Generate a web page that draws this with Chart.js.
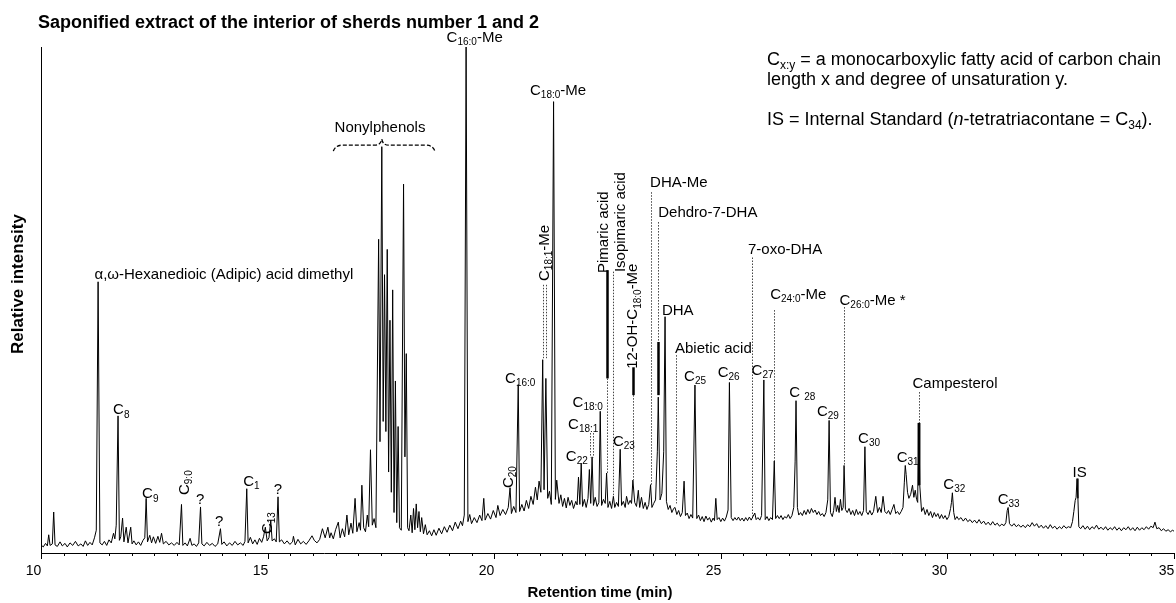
<!DOCTYPE html>
<html>
<head>
<meta charset="utf-8">
<title>Saponified extract chromatogram</title>
<script src="https://cdn.jsdelivr.net/npm/chart.js@4.4.1/dist/chart.umd.min.js"></script>
<style>
  html, body { margin: 0; padding: 0; background: #fff; }
  #wrap { width: 1176px; height: 603px; position: relative; }
</style>
</head>
<body>
<div id="wrap"><canvas id="gc"></canvas></div>
<script>
// retention time (min), relative intensity (%)
const trace10to13 = [
  [10.00,1.6],[10.05,1.2],[10.10,1.9],[10.14,1.4],[10.17,3.6],[10.20,1.5],[10.25,1.8],[10.28,8.1],[10.31,1.6],[10.36,1.3],
  [10.42,2.2],[10.47,1.4],[10.53,1.9],[10.58,1.2],[10.64,2.0],[10.70,1.5],[10.76,2.3],[10.82,1.4],[10.88,1.8],[10.93,1.3],
  [10.98,2.4],[11.03,1.5],[11.08,2.1],[11.13,1.6],[11.18,3.0],[11.22,4.5],[11.26,53.6],[11.30,2.0],[11.35,1.6],[11.40,2.3],
  [11.45,1.5],[11.50,2.6],[11.55,2.0],[11.60,3.9],[11.63,2.8],[11.66,5.5],[11.70,27.1],[11.73,2.5],[11.76,3.2],[11.80,6.9],
  [11.83,2.2],[11.88,5.1],[11.92,2.0],[11.98,5.1],[12.01,1.8],[12.05,2.4],[12.10,1.6],[12.15,2.2],[12.20,1.5],[12.25,2.5],
  [12.29,3.0],[12.32,10.8],[12.35,2.2],[12.40,3.5],[12.44,2.0],[12.48,3.2],[12.53,1.9],[12.58,3.3],[12.62,2.1],[12.66,3.9],
  [12.70,1.8],[12.76,2.3],[12.82,1.6],[12.88,2.0],[12.94,1.5],[13.00,2.1]
];
const trace13to16 = [
  [13.05,1.6],[13.10,9.6],[13.13,1.5],[13.18,2.0],[13.23,1.4],[13.29,2.9],[13.33,1.5],[13.38,1.8],[13.43,1.3],[13.48,2.0],
  [13.52,9.1],[13.55,1.8],[13.60,1.4],[13.66,2.1],[13.72,1.5],[13.78,1.9],[13.84,1.3],[13.90,1.8],[13.96,4.8],[13.99,1.7],
  [14.04,2.2],[14.10,1.4],[14.16,2.0],[14.22,1.5],[14.28,2.3],[14.34,1.6],[14.40,2.0],[14.46,1.5],[14.50,2.3],[14.54,12.7],
  [14.57,2.0],[14.62,3.1],[14.67,1.8],[14.72,2.6],[14.77,1.7],[14.82,2.9],[14.87,2.1],[14.91,3.2],[14.95,5.1],[14.99,2.4],
  [15.03,3.0],[15.07,6.5],[15.10,2.4],[15.15,2.8],[15.19,2.2],[15.23,11.1],[15.26,2.2],[15.31,2.6],[15.37,1.8],[15.43,2.4],
  [15.49,1.7],[15.55,2.2],[15.57,3.3],[15.61,1.6],[15.67,2.7],[15.73,1.8],[15.79,2.3],[15.85,1.7],[15.91,2.4],[15.98,3.4],
  [16.03,2.5],[16.09,2.0],[16.15,2.7],[16.21,4.8],[16.27,3.0],[16.33,5.1]
];
const trace16to18 = [
  [16.37,3.0],[16.40,4.0],[16.45,2.8],[16.50,4.6],[16.56,6.1],[16.60,3.0],[16.65,4.8],[16.70,3.2],[16.75,7.5],[16.79,3.6],
  [16.84,5.9],[16.88,3.9],[16.93,10.8],[16.97,4.2],[17.02,6.0],[17.05,4.5],[17.08,13.4],[17.12,5.0],[17.16,4.2],[17.20,7.5],
  [17.23,5.2],[17.27,20.4],[17.31,5.5],[17.35,6.8],[17.39,5.0],[17.45,62.0],[17.48,22.0],[17.52,80.3],[17.55,26.0],[17.58,55.0],
  [17.61,24.0],[17.64,60.0],[17.67,16.0],[17.70,46.0],[17.73,12.0],[17.76,52.0],[17.79,8.0],[17.82,34.0],[17.85,6.0],[17.88,25.0],
  [17.91,5.0],[17.95,4.5],[18.00,72.9],[18.03,19.0],[18.06,39.4],[18.09,5.0]
];
const trace18to21 = [
  [18.12,4.4],[18.16,7.5],[18.19,4.0],[18.22,8.8],[18.25,4.6],[18.28,9.7],[18.31,5.0],[18.34,8.2],[18.37,4.2],[18.40,7.0],
  [18.44,3.8],[18.48,5.6],[18.52,3.6],[18.57,4.4],[18.62,3.4],[18.67,4.6],[18.72,3.5],[18.78,4.9],[18.84,3.8],[18.90,5.2],
  [18.96,4.1],[19.02,5.5],[19.08,4.4],[19.14,6.1],[19.20,4.8],[19.26,6.3],[19.30,5.4],[19.34,7.5],[19.38,100],[19.42,6.2],
  [19.46,7.6],[19.50,5.8],[19.56,7.0],[19.62,6.0],[19.68,7.5],[19.73,6.4],[19.77,10.8],[19.80,6.5],[19.86,7.8],[19.92,6.7],
  [19.98,8.4],[20.04,7.0],[20.08,9.4],[20.13,7.4],[20.19,8.6],[20.25,7.6],[20.31,9.0],[20.35,12.9],[20.38,7.8],[20.43,9.2],
  [20.48,8.0],[20.53,33.3],[20.56,8.2],[20.61,9.6],[20.66,8.3],[20.71,10.4],[20.76,8.8],[20.81,11.2],[20.86,9.6],[20.91,13.0],
  [20.95,10.5],[20.99,14.2],[21.03,12.0],[21.07,38.2],[21.10,12.5],[21.14,34.5],[21.18,10.8],[21.22,12.2],[21.26,9.6],[21.31,89.2],
  [21.35,10.6],[21.38,14.4],[21.43,9.8]
];
const trace21to24 = [
  [21.47,11.5],[21.51,9.2],[21.55,10.8],[21.59,8.9],[21.63,11.0],[21.67,9.4],[21.71,10.4],[21.75,8.8],[21.80,10.2],[21.83,9.5],
  [21.86,15.0],[21.89,9.6],[21.92,17.7],[21.95,9.2],[21.99,10.6],[22.03,9.0],[22.07,10.8],[22.10,16.5],[22.13,9.8],[22.16,19.0],
  [22.19,9.4],[22.23,11.0],[22.27,9.2],[22.31,10.0],[22.34,28.0],[22.37,9.4],[22.41,10.6],[22.45,9.8],[22.48,15.8],[22.51,9.0],
  [22.55,10.2],[22.59,8.8],[22.63,11.2],[22.66,9.0],[22.70,10.0],[22.74,9.2],[22.78,20.5],[22.81,9.4],[22.85,10.2],[22.89,9.0],
  [22.92,11.2],[22.96,9.6],[23.00,10.4],[23.03,9.8],[23.06,14.4],[23.10,10.0],[23.14,9.2],[23.18,12.4],[23.21,9.0],[23.25,11.0],
  [23.29,8.8],[23.33,10.0],[23.37,8.6],[23.41,9.6],[23.45,13.5],[23.48,9.0],[23.52,9.8],[23.56,10.5],[23.60,20.0],[23.62,30.8],
  [23.66,10.5],[23.70,11.8],[23.74,20.0],[23.77,46.7],[23.80,10.2],[23.84,8.6],[23.88,9.4],[23.92,8.0],[23.96,8.8],[23.99,9.0]
];
const trace24to26 = [
  [24.03,7.6],[24.07,8.4],[24.11,7.2],[24.15,8.0],[24.19,14.2],[24.22,7.4],[24.26,7.9],[24.30,6.8],[24.34,7.6],[24.38,6.9],
  [24.43,33.2],[24.47,6.8],[24.51,7.5],[24.55,6.4],[24.59,7.2],[24.63,6.2],[24.67,7.3],[24.71,6.5],[24.75,7.0],[24.79,6.1],
  [24.83,6.9],[24.86,6.4],[24.89,10.8],[24.92,6.6],[24.96,7.0],[25.00,6.2],[25.04,6.9],[25.08,6.3],[25.12,7.1],[25.16,8.5],
  [25.19,33.7],[25.23,7.0],[25.27,6.4],[25.31,7.0],[25.35,6.5],[25.39,7.1],[25.43,6.4],[25.47,6.9],[25.51,6.3],[25.55,7.0],
  [25.59,6.4],[25.63,7.1],[25.67,6.5],[25.71,7.2],[25.75,7.9],[25.78,6.6],[25.82,7.0],[25.86,6.5],[25.90,7.4],[25.95,34.2],
  [25.98,6.6],[26.02,7.2],[26.06,6.4],[26.10,7.0],[26.14,6.6],[26.18,18.2],[26.21,6.8],[26.25,7.4]
];
const trace26to30 = [
  [26.29,6.8],[26.33,7.4],[26.37,6.6],[26.41,7.2],[26.45,6.9],[26.49,7.6],[26.53,6.8],[26.57,7.4],[26.61,9.0],[26.64,18.0],
  [26.66,30.1],[26.69,9.0],[26.72,7.5],[26.76,8.0],[26.80,7.4],[26.84,8.4],[26.88,7.6],[26.92,8.6],[26.96,7.8],[27.00,8.8],
  [27.04,8.0],[27.08,8.5],[27.12,7.6],[27.16,8.2],[27.20,7.4],[27.24,7.8],[27.28,7.2],[27.32,8.0],[27.36,10.5],[27.39,26.2],
  [27.42,8.0],[27.46,7.2],[27.49,8.4],[27.52,11.0],[27.55,8.2],[27.58,9.4],[27.61,8.0],[27.64,10.6],[27.67,8.4],[27.70,9.0],
  [27.72,17.3],[27.75,8.6],[27.79,8.0],[27.83,8.8],[27.87,7.6],[27.91,8.4],[27.95,7.4],[27.99,8.6],[28.03,7.6],[28.07,8.2],
  [28.11,7.4],[28.15,8.4],[28.18,21.0],[28.21,8.2],[28.25,7.6],[28.29,8.4],[28.33,7.5],[28.37,8.2],[28.42,11.2],[28.46,8.0],
  [28.50,9.0],[28.54,8.0],[28.58,11.2],[28.62,8.2],[28.66,7.8],[28.70,8.4],[28.74,7.6],[28.78,8.6],[28.82,9.6],[28.86,7.8],
  [28.90,8.2],[28.94,7.6],[28.98,8.2],[29.02,9.0],[29.05,14.0],[29.07,17.3],[29.09,15.5],[29.12,12.0],[29.15,10.8],[29.19,11.6],
  [29.23,13.4],[29.26,11.0],[29.29,12.4],[29.32,10.6],[29.345,10.0],[29.357,25.7],[29.366,13.4],[29.374,25.7],[29.39,13.4],[29.43,8.2],
  [29.47,9.0],[29.51,7.6],[29.55,8.6],[29.59,7.4],[29.63,8.2],[29.67,7.0],[29.71,8.0],[29.75,7.2],[29.79,7.8],[29.83,6.8],
  [29.87,7.6],[29.91,6.8],[29.95,7.4],[29.99,6.6]
];
const trace30to35 = [
  [30.03,7.2],[30.07,8.8],[30.09,10.0],[30.11,11.9],[30.14,8.0],[30.17,6.6],[30.21,7.2],[30.25,6.6],[30.30,7.0],[30.35,6.3],
  [30.40,6.9],[30.45,6.2],[30.50,6.6],[30.55,6.0],[30.60,6.5],[30.65,5.9],[30.70,6.6],[30.75,5.8],[30.80,6.3],[30.85,5.6],
  [30.90,6.1],[30.95,5.5],[31.00,6.2],[31.05,5.5],[31.10,5.9],[31.15,5.3],[31.20,5.7],[31.25,5.4],[31.29,6.0],[31.32,8.4],
  [31.34,9.0],[31.37,5.8],[31.42,5.3],[31.47,5.8],[31.52,5.2],[31.57,5.6],[31.62,5.1],[31.67,5.5],[31.72,5.0],[31.77,5.6],
  [31.82,5.2],[31.87,6.0],[31.92,5.3],[31.97,5.8],[32.02,5.0],[32.07,5.5],[32.12,4.9],[32.17,5.4],[32.22,4.8],[32.27,5.6],
  [32.32,4.9],[32.37,5.3],[32.42,4.7],[32.47,5.2],[32.52,4.8],[32.57,5.4],[32.62,4.9],[32.67,5.2],[32.72,5.0],[32.76,6.2],
  [32.79,8.2],[32.82,10.4],[32.84,11.0],[32.86,14.7],[32.88,10.8],[32.90,5.2],[32.94,4.8],[32.99,5.4],[33.04,4.7],[33.09,5.3],
  [33.14,4.6],[33.19,5.2],[33.24,4.8],[33.29,5.5],[33.34,4.7],[33.39,5.1],[33.44,4.6],[33.49,5.2],[33.54,4.5],[33.59,5.0],
  [33.64,4.6],[33.69,5.2],[33.74,4.5],[33.79,5.0],[33.84,4.4],[33.89,5.0],[33.94,4.6],[33.99,5.2],[34.04,4.5],[34.09,5.0],
  [34.14,4.4],[34.19,5.1],[34.24,4.5],[34.29,5.0],[34.34,4.6],[34.39,5.2],[34.44,4.7],[34.49,5.3],[34.54,5.0],[34.58,6.1],
  [34.62,4.8],[34.67,5.0],[34.72,4.4],[34.77,4.8],[34.82,4.3],[34.87,4.6],[34.92,4.2],[34.97,4.5],[35.00,4.3]
];

const xMin = 10, xMax = 35;
const majorTicks = [10, 15, 20, 25, 30, 35];

// peak labels: text (_{} = subscript, /{} = italic), time, intensity, placement
const peakLabels = [
  ['α,ω-Hexanedioic (Adipic) acid dimethyl', 11.18, 54.9, 'l'],
  ['C_{8}', 11.59, 28.2, 'l'],
  ['C_{9}', 12.23, 11.6, 'l'],
  ['C_{9:0}', 13.18, 13.9, 'r'],
  ['?', 13.51, 10.6, 'c'],
  ['?', 13.93, 6.1, 'c'],
  ['C_{1}', 14.46, 14.0, 'l'],
  ['C_{13}', 15.01, 5.9, 'r'],
  ['?', 15.23, 12.5, 'c'],
  ['Nonylphenols', 17.48, 84.0, 'c'],
  ['C_{16:0}-Me', 18.95, 101.8, 'l'],
  ['C_{18:0}-Me', 20.79, 91.4, 'l'],
  ['C_{18:1}-Me', 21.12, 59.3, 'r'],
  ['Pimaric acid', 22.42, 63.4, 'r'],
  ['Isopimaric acid', 22.80, 65.4, 'r'],
  ['12-OH-C_{18:0}-Me', 23.07, 46.8, 'r'],
  ['DHA-Me', 23.44, 73.1, 'l'],
  ['Dehdro-7-DHA', 23.62, 67.2, 'l'],
  ['7-oxo-DHA', 25.60, 59.9, 'l'],
  ['DHA', 23.70, 47.8, 'l'],
  ['Abietic acid', 23.99, 40.3, 'l'],
  ['C_{16:0}', 20.24, 34.5, 'l'],
  ['C_{20}', 20.33, 15.0, 'r'],
  ['C_{18:0}', 21.73, 29.6, 'l'],
  ['C_{18:1}', 21.63, 25.4, 'l'],
  ['C_{22}', 21.58, 19.0, 'l'],
  ['C_{23}', 22.62, 21.9, 'l'],
  ['C_{25}', 24.19, 34.8, 'l'],
  ['C_{26}', 24.93, 35.6, 'l'],
  ['C_{27}', 25.68, 36.0, 'l'],
  ['C_{24:0}-Me', 26.09, 51.0, 'l'],
  ['C_{26:0}-Me *', 27.62, 49.8, 'l'],
  ['C _{28}', 26.51, 31.6, 'l'],
  ['C_{29}', 27.12, 27.9, 'l'],
  ['C_{30}', 28.03, 22.6, 'l'],
  ['C_{31}', 28.88, 18.9, 'l'],
  ['Campesterol', 29.23, 33.4, 'l'],
  ['C_{32}', 29.91, 13.4, 'l'],
  ['C_{33}', 31.11, 10.6, 'l'],
  ['IS', 32.76, 15.8, 'l']
];

// leader lines: time, from intensity, to intensity, kind
const leaders = [
  [21.07, 53.0, 38.5, 'dot'], [21.135, 53.0, 38.5, 'dot'],
  [22.48, 55.9, 34.5, 'bold'], [22.48, 34.5, 15.8, 'dot'],
  [22.63, 55.6, 11.1, 'dot'],
  [23.06, 36.7, 31.2, 'bold'], [23.06, 31.2, 14.4, 'dot'],
  [23.45, 71.3, 13.5, 'dot'],
  [23.62, 65.4, 41.7, 'dot'], [23.605, 41.7, 31.2, 'bold'],
  [24.01, 39.1, 9.8, 'dot'],
  [25.68, 58.4, 6.9, 'dot'],
  [26.18, 48.0, 18.2, 'dot'],
  [27.72, 48.6, 17.3, 'dot'],
  [29.37, 31.8, 25.7, 'dot'],
  [22.12, 23.7, 18.9, 'dot'], [22.18, 23.7, 18.9, 'dot']
];

const legendLines = [
  'C_{x:y} = a monocarboxylic fatty acid of carbon chain',
  'length x and degree of unsaturation y.',
  '',
  'IS = Internal Standard (/{n}-tetratriacontane = C_{34}).'
];

const FAM = '"Liberation Sans", Arial, Helvetica, sans-serif';

function splitRich(str) {
  const out = [];
  const re = /(_|\/)\{([^}]*)\}/g;
  let last = 0, m;
  while ((m = re.exec(str))) {
    if (m.index > last) out.push({ t: str.slice(last, m.index), k: 'n' });
    out.push({ t: m[2], k: m[1] === '_' ? 's' : 'i' });
    last = re.lastIndex;
  }
  if (last < str.length) out.push({ t: str.slice(last), k: 'n' });
  return out;
}

function fontFor(k, size) {
  if (k === 's') return Math.round(size * 0.68) + 'px ' + FAM;
  if (k === 'i') return 'italic ' + size + 'px ' + FAM;
  return size + 'px ' + FAM;
}

function drawRich(ctx, str, x, y, size, align) {
  const ps = splitRich(str);
  let w = 0;
  ps.forEach(p => { ctx.font = fontFor(p.k, size); p.w = ctx.measureText(p.t).width; w += p.w; });
  let cx = align === 'c' ? x - w / 2 : x;
  ctx.textAlign = 'left';
  ctx.textBaseline = 'middle';
  ps.forEach(p => {
    ctx.font = fontFor(p.k, size);
    ctx.fillText(p.t, cx, p.k === 's' ? y + size * 0.3 : y);
    cx += p.w;
  });
}

const annotate = {
  id: 'annotate',
  afterDatasetsDraw(chart) {
    const { ctx, scales } = chart;
    const X = t => scales.x.getPixelForValue(t);
    const Y = v => scales.y.getPixelForValue(v);
    const base = scales.y.bottom;
    ctx.save();
    ctx.fillStyle = '#000';
    ctx.strokeStyle = '#000';

    // x tick marks, longer at the labelled minutes, plus their labels
    ctx.lineWidth = 1;
    ctx.font = '14px ' + FAM;
    ctx.textAlign = 'center';
    ctx.textBaseline = 'middle';
    scales.x.ticks.forEach(tk => {
      const px = Math.round(X(tk.value)) + 0.5;
      const major = majorTicks.includes(tk.value);
      ctx.beginPath(); ctx.moveTo(px, base); ctx.lineTo(px, base + (major ? 6 : 3)); ctx.stroke();
      if (major) {
        const s = String(tk.value);
        const hw = ctx.measureText(s).width / 2;
        ctx.fillText(s, Math.min(px - 8, chart.width - hw - 1), base + 18);
      }
    });

    // leader lines
    leaders.forEach(([t, a, b, kind]) => {
      const px = Math.round(X(t)) + 0.5;
      ctx.beginPath();
      if (kind === 'bold') { ctx.setLineDash([]); ctx.lineWidth = 2.5; ctx.strokeStyle = '#000'; }
      else { ctx.setLineDash([1.5, 1.5]); ctx.lineWidth = 1; ctx.strokeStyle = '#444'; }
      ctx.moveTo(px, Y(a)); ctx.lineTo(px, Y(b)); ctx.stroke();
    });
    ctx.setLineDash([]);

    // brace over the nonylphenol cluster
    ctx.strokeStyle = '#000';
    ctx.lineWidth = 1.3;
    ctx.setLineDash([4, 2]);
    const bl = X(16.45), br = X(18.69), bm = X(17.52), by = Y(80.6);
    ctx.beginPath();
    ctx.moveTo(bl, by + 6);
    ctx.quadraticCurveTo(bl + 2, by, bl + 9, by);
    ctx.lineTo(bm - 7, by);
    ctx.quadraticCurveTo(bm - 1, by, bm, by - 6);
    ctx.quadraticCurveTo(bm + 1, by, bm + 7, by);
    ctx.lineTo(br - 9, by);
    ctx.quadraticCurveTo(br - 2, by, br, by + 6);
    ctx.stroke();
    ctx.setLineDash([]);

    // peak labels
    ctx.fillStyle = '#000';
    peakLabels.forEach(([txt, t, v, mode]) => {
      const px = X(t), py = Y(v);
      if (mode === 'r') {
        ctx.save();
        ctx.translate(px, py);
        ctx.rotate(-Math.PI / 2);
        drawRich(ctx, txt, 0, 0, 15, 'c');
        ctx.restore();
      } else {
        drawRich(ctx, txt, px, py, 15, mode === 'c' ? 'c' : 'l');
      }
    });

    // note in the upper right
    legendLines.forEach((ln, i) => {
      if (ln) drawRich(ctx, ln, 767, 60 + i * 20, 18, 'l');
    });

    // titles
    ctx.textBaseline = 'middle';
    ctx.font = 'bold 18px ' + FAM;
    ctx.textAlign = 'left';
    ctx.fillText('Saponified extract of the interior of sherds number 1 and 2', 38, 23);
    ctx.font = 'bold 15px ' + FAM;
    ctx.textAlign = 'center';
    ctx.fillText('Retention time (min)', 600, 593);
    ctx.save();
    ctx.font = 'bold 17px ' + FAM;
    ctx.translate(18, 284);
    ctx.rotate(-Math.PI / 2);
    ctx.fillText('Relative intensity', 0, 0);
    ctx.restore();

    ctx.restore();
  }
};

const points = [].concat(trace10to13, trace13to16, trace16to18, trace18to21,
  trace21to24, trace24to26, trace26to30, trace30to35).map(([x, y]) => ({ x, y }));

new Chart(document.getElementById('gc'), {
  type: 'line',
  data: {
    datasets: [{
      data: points,
      borderColor: '#000',
      borderWidth: 1,
      pointRadius: 0,
      tension: 0,
      fill: false
    }]
  },
  options: {
    responsive: true,
    maintainAspectRatio: false,
    animation: false,
    parsing: false,
    layout: { autoPadding: false, padding: { left: 0, right: 2, top: 47, bottom: 0 } },
    plugins: { legend: { display: false }, tooltip: { enabled: false }, title: { display: false } },
    scales: {
      x: {
        type: 'linear',
        min: xMin,
        max: xMax,
        afterFit: s => { s.height = 50; s.paddingLeft = 0; s.paddingRight = 0; },
        grid: { drawOnChartArea: false, drawTicks: false },
        border: { color: '#000', width: 1 },
        ticks: { stepSize: 0.5, autoSkip: false, display: false }
      },
      y: {
        min: 0,
        max: 100,
        afterFit: s => { s.width = 41; s.paddingTop = 0; s.paddingBottom = 0; },
        grid: { drawOnChartArea: false, drawTicks: false },
        border: { color: '#000', width: 1 },
        ticks: { display: false }
      }
    }
  },
  plugins: [annotate]
});
</script>
</body>
</html>
